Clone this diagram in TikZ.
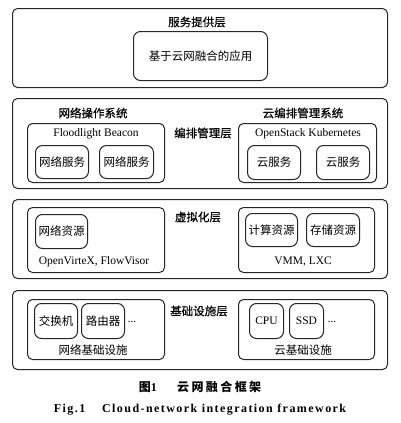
\documentclass[tikz,border=0pt]{standalone}
\usepackage{fontspec}
\setmainfont{Liberation Serif}
\newfontfamily\cjk{Noto Sans CJK SC}
\newfontfamily\cjkh[FakeBold=0.6]{Noto Sans CJK SC}
\begin{document}
\begin{tikzpicture}[x=1pt,y=-1pt,
  frame/.style={draw=black!85, line width=1pt, rounded corners=5pt},
  inbox/.style={draw=black!85, line width=1pt, rounded corners=7pt},
  lbl/.style={inner sep=0pt, font=\fontsize{11.5}{12}\selectfont},
  zh/.style={inner sep=0pt, font=\fontsize{11.5}{12}\selectfont\cjk},
  zhb/.style={inner sep=0pt, font=\fontsize{11.5}{12}\selectfont\cjkh}]
\useasboundingbox (0,0) rectangle (400,423);
% helper macro for rectangles as nodes
\newcommand\rbox[6]{\node[#1, anchor=north west, minimum width={(#5-#3)*1pt}, minimum height={(#6-#4)*1pt}, inner sep=0pt] (#2) at (#3,#4) {};}
% Layer 1
\rbox{frame}{L1}{12}{8}{387}{87}
\node[zhb] (t1) at (197,22) {服务提供层};
\rbox{inbox}{app}{133}{31}{267}{80}
\node[zh] (appt) at (app.center) {基于云网融合的应用};
% Layer 2
\rbox{frame}{L2}{12}{98}{387}{188}
\node[zhb] (nos) at (93,113) {网络操作系统};
\node[zhb] (cos) at (303,113) {云编排管理系统};
\node[zhb] (t2) at (203,133) {编排管理层};
\rbox{frame}{L2a}{27}{123}{164}{182}
\node[lbl] (fb) at (96,134) {Floodlight Beacon};
\rbox{inbox}{ns1}{35}{145}{88}{178}
\node[zh] at (ns1.center) {网络服务};
\rbox{inbox}{ns2}{99}{145}{153}{178}
\node[zh] at (ns2.center) {网络服务};
\rbox{frame}{L2b}{238}{123}{376}{182}
\node[lbl] (ok) at (308,134) {OpenStack Kubernetes};
\rbox{inbox}{cs1}{247}{145}{300}{179}
\node[zh] at (cs1.center) {云服务};
\rbox{inbox}{cs2}{316}{145}{369}{179}
\node[zh] at (cs2.center) {云服务};
% Layer 3
\rbox{frame}{L3}{12}{199}{387}{278}
\node[zhb] (t3) at (198,217) {虚拟化层};
\rbox{frame}{L3a}{27}{207}{164}{272}
\rbox{inbox}{nr}{35}{214}{87}{248}
\node[zh] at (nr.center) {网络资源};
\node[lbl] (ov) at (94,262) {OpenVirteX, FlowVisor};
\rbox{frame}{L3b}{238}{207}{374}{272}
\rbox{inbox}{cr}{245}{213}{297}{246}
\node[zh] at (cr.center) {计算资源};
\rbox{inbox}{sr}{306}{213}{359}{246}
\node[zh] at (sr.center) {存储资源};
\node[lbl] (vm) at (303,262) {VMM, LXC};
% Layer 4
\rbox{frame}{L4}{12}{290}{387}{369}
\node[zhb] (t4) at (199,311) {基础设施层};
\rbox{frame}{L4a}{27}{299}{164}{359}
\rbox{inbox}{sw}{34}{303}{77}{338}
\node[zh] at (sw.center) {交换机};
\rbox{inbox}{rt}{81}{303}{124}{338}
\node[zh] at (rt.center) {路由器};
\node[lbl] (d1) at (132,322) {...};
\node[zh] (ni) at (93,350) {网络基础设施};
\rbox{frame}{L4b}{238}{299}{374}{359}
\rbox{inbox}{cpu}{249}{303}{283}{338}
\node[lbl] at (cpu.center) {CPU};
\rbox{inbox}{ssd}{289}{303}{323}{338}
\node[lbl] at (ssd.center) {SSD};
\node[lbl] (d2) at (332,322) {...};
\node[zh] (ci) at (303,350) {云基础设施};
% Caption
\node[inner sep=0pt, font=\fontsize{12}{13}\selectfont] (cap1) at (200,387) {{\cjk\bfseries 图}\textbf{1}\hspace{1.7em}{\cjk\bfseries\addfontfeature{LetterSpace=20} 云网融合框架}};
\node[inner sep=0pt, font=\fontsize{12}{13}\selectfont\bfseries\addfontfeature{LetterSpace=12}] (cap2) at (200,410) {Fig.1\hspace{1.4em}Cloud-network integration framework};
\end{tikzpicture}
\end{document}
